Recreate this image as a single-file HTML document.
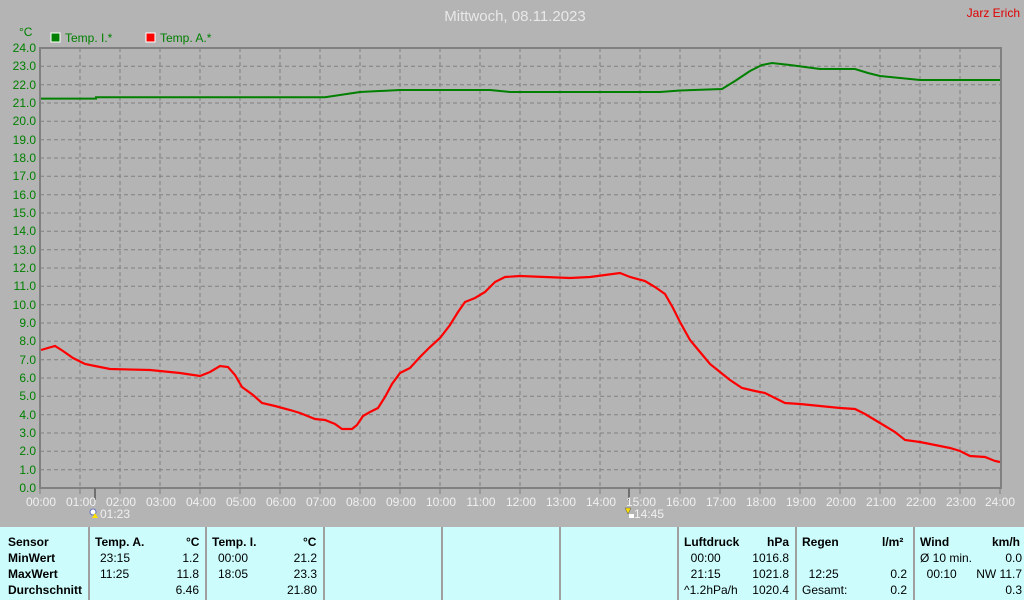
<!DOCTYPE html>
<html><head><meta charset="utf-8"><style>
body{margin:0;width:1024px;height:600px;overflow:hidden;background:#b4b4b4;font-family:"Liberation Sans",sans-serif}
svg{position:absolute;left:0;top:0}
.tbl{position:absolute;left:0;top:527px;width:1024px;height:73px;background:#ccfcfc}
.c{position:absolute;top:0;height:73px;border-left:2px solid #a0a0a0;box-sizing:border-box}
.t{position:absolute;font-size:12px;color:#000;white-space:nowrap;line-height:16px}
.b{font-weight:bold}
</style></head><body>
<svg width="1024" height="527" viewBox="0 0 1024 527">
<g stroke="#808080" stroke-width="1" stroke-dasharray="4,3" fill="none">
<path d="M80 48V488M120 48V488M160 48V488M200 48V488M240 48V488M280 48V488M320 48V488M360 48V488M400 48V488M440 48V488M480 48V488M520 48V488M560 48V488M600 48V488M640 48V488M680 48V488M720 48V488M760 48V488M800 48V488M840 48V488M880 48V488M920 48V488M960 48V488"/>
<path d="M40 66.3H1000M40 84.7H1000M40 103H1000M40 121.3H1000M40 139.7H1000M40 158H1000M40 176.3H1000M40 194.7H1000M40 213H1000M40 231.3H1000M40 249.7H1000M40 268H1000M40 286.3H1000M40 304.7H1000M40 323H1000M40 341.3H1000M40 359.7H1000M40 378H1000M40 396.3H1000M40 414.7H1000M40 433H1000M40 451.3H1000M40 469.7H1000"/>
</g>
<path d="M40 48H1001V488H40Z" fill="none" stroke="#808080" stroke-width="2"/>
<g stroke="#808080" stroke-width="1"><path d="M40 488v6M80 488v6M120 488v6M160 488v6M200 488v6M240 488v6M280 488v6M320 488v6M360 488v6M400 488v6M440 488v6M480 488v6M520 488v6M560 488v6M600 488v6M640 488v6M680 488v6M720 488v6M760 488v6M800 488v6M840 488v6M880 488v6M920 488v6M960 488v6M1000 488v6"/></g>
<path d="M95 488v12M629 488v12" stroke="#707070" stroke-width="2"/>
<g font-size="12" fill="#008000" text-anchor="end">
<text x="36" y="52">24.0</text><text x="36" y="70">23.0</text><text x="36" y="89">22.0</text><text x="36" y="107">21.0</text><text x="36" y="125">20.0</text><text x="36" y="144">19.0</text><text x="36" y="162">18.0</text><text x="36" y="180">17.0</text><text x="36" y="199">16.0</text><text x="36" y="217">15.0</text><text x="36" y="235">14.0</text><text x="36" y="254">13.0</text><text x="36" y="272">12.0</text><text x="36" y="290">11.0</text><text x="36" y="309">10.0</text><text x="36" y="327">9.0</text><text x="36" y="345">8.0</text><text x="36" y="364">7.0</text><text x="36" y="382">6.0</text><text x="36" y="400">5.0</text><text x="36" y="419">4.0</text><text x="36" y="437">3.0</text><text x="36" y="455">2.0</text><text x="36" y="474">1.0</text><text x="36" y="492">0.0</text>
</g>
<text x="19" y="36" font-size="12" fill="#008000">°C</text>
<rect x="51" y="33" width="9" height="9" fill="#008000" stroke="#fff"/>
<text x="65" y="42" font-size="12" fill="#008000">Temp. I.*</text>
<rect x="146" y="33" width="9" height="9" fill="#ff0000" stroke="#fff"/>
<text x="160" y="42" font-size="12" fill="#008000">Temp. A.*</text>
<text x="515" y="21" font-size="15" fill="#e8e8e8" text-anchor="middle">Mittwoch, 08.11.2023</text>
<text x="1020" y="17" font-size="12" fill="#e00000" text-anchor="end">Jarz Erich</text>
<g font-size="12" fill="#f0f0f0" text-anchor="middle">
<text x="41" y="506">00:00</text><text x="81" y="506">01:00</text><text x="121" y="506">02:00</text><text x="161" y="506">03:00</text><text x="201" y="506">04:00</text><text x="241" y="506">05:00</text><text x="281" y="506">06:00</text><text x="321" y="506">07:00</text><text x="361" y="506">08:00</text><text x="401" y="506">09:00</text><text x="441" y="506">10:00</text><text x="481" y="506">11:00</text><text x="521" y="506">12:00</text><text x="561" y="506">13:00</text><text x="601" y="506">14:00</text><text x="641" y="506">15:00</text><text x="681" y="506">16:00</text><text x="721" y="506">17:00</text><text x="761" y="506">18:00</text><text x="801" y="506">19:00</text><text x="841" y="506">20:00</text><text x="881" y="506">21:00</text><text x="921" y="506">22:00</text><text x="961" y="506">23:00</text><text x="1000" y="506">24:00</text>
<text x="115" y="518">01:23</text><text x="649" y="518">14:45</text>
</g>
<circle cx="93" cy="512" r="3" fill="#fff" stroke="#6070c0"/><path d="M95 513l3 5h-6z" fill="#ffe000"/>
<path d="M625 508l6 0-3 6z" fill="#ffe000" stroke="#555" stroke-width=".5"/><rect x="629" y="514" width="5" height="4" fill="#fff"/>
<polyline fill="none" stroke="#008000" stroke-width="2" points="41,98.6 96,98.6 96,97.3 325,97.3 340,95 360,92 400,90 490,90 510,92 660,92 680,90.5 722,89 735,81 750,71 762,65 772,63 790,65 805,67 820,69 855,69 868,73 880,76 895,77.5 920,80 1000,80"/>
<polyline fill="none" stroke="#ff0000" stroke-width="2.2" points="41,350 55,346 63,351 73,358 85,364 95,366 110,369 150,370 180,373 200,376 210,372 220,366 228,367 235,375 242,387 253,395 262,403 275,406 290,410 300,413 315,419 325,420 335,424 342,429 352,429 357,425 363,416 370,412 378,408 385,397 392,384 400,373 410,368 420,357 430,347 440,338 450,325 458,312 465,302 475,298 485,292 495,282 505,277 520,276 545,277 570,278 590,277 605,275 620,273 630,277 645,281 655,287 665,294 673,308 680,322 690,340 700,352 710,364 720,372 730,380 742,388 755,391 765,393 775,398 785,403 800,404 820,406 840,408 855,409 865,414 875,420 885,426 895,432 905,440 920,442 935,445 950,448 960,451 970,456 985,457 995,461 1000,462"/>
</svg>
<div class="tbl">
<div class="c" style="left:88px"></div><div class="c" style="left:205px"></div><div class="c" style="left:323px"></div><div class="c" style="left:441px"></div><div class="c" style="left:559px"></div><div class="c" style="left:677px"></div><div class="c" style="left:795px"></div><div class="c" style="left:913px"></div>
<div class="t b" style="left:8px;top:7px">Sensor<br>MinWert<br>MaxWert<br>Durchschnitt</div>
<div class="t b" style="left:95px;top:7px">Temp. A.</div><div class="t b" style="left:186px;top:7px">°C</div>
<div class="t" style="left:100px;top:23px">23:15<br>11:25</div>
<div class="t" style="right:825px;top:23px;text-align:right">1.2<br>11.8<br>6.46</div>
<div class="t b" style="left:212px;top:7px">Temp. I.</div><div class="t b" style="left:303px;top:7px">°C</div>
<div class="t" style="left:218px;top:23px">00:00<br>18:05</div>
<div class="t" style="right:707px;top:23px;text-align:right">21.2<br>23.3<br>21.80</div>
<div class="t b" style="left:684px;top:7px">Luftdruck</div><div class="t b" style="left:767px;top:7px">hPa</div>
<div class="t" style="left:684px;top:23px">&nbsp;&nbsp;00:00<br>&nbsp;&nbsp;21:15<br>^1.2hPa/h</div>
<div class="t" style="right:235px;top:23px;text-align:right">1016.8<br>1021.8<br>1020.4</div>
<div class="t b" style="left:802px;top:7px">Regen</div><div class="t b" style="left:882px;top:7px">l/m²</div>
<div class="t" style="left:802px;top:39px">&nbsp;&nbsp;12:25<br>Gesamt:</div>
<div class="t" style="right:117px;top:39px;text-align:right">0.2<br>0.2</div>
<div class="t b" style="left:920px;top:7px">Wind</div><div class="t b" style="left:992px;top:7px">km/h</div>
<div class="t" style="left:920px;top:23px">Ø 10 min.<br>&nbsp;&nbsp;00:10</div>
<div class="t" style="right:2px;top:23px;text-align:right">0.0<br>NW 11.7<br>0.3</div>
</div>
</body></html>
